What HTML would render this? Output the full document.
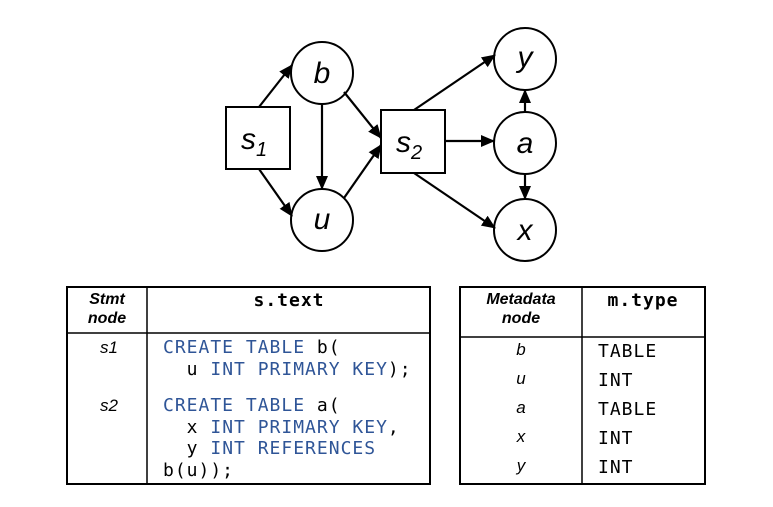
<!DOCTYPE html>
<html><head><style>
body{margin:0;width:773px;height:507px;background:#fff;overflow:hidden;position:relative;font-family:"Liberation Sans","DejaVu Sans",sans-serif}
svg{position:absolute;left:0;top:0}
.mono{font-family:"DejaVu Sans Mono","Liberation Mono",monospace}
.kw{fill:#2f5597}
</style></head><body>
<svg width="773" height="507" viewBox="0 0 773 507">
<defs><marker id="ah" markerWidth="14" markerHeight="14" refX="13" refY="6" orient="auto" markerUnits="userSpaceOnUse"><path d="M0,0 L14,6 L0,12 z" fill="#000"/></marker></defs>
<g fill="none" stroke="#000" stroke-width="2">
<rect x="226" y="107" width="64" height="62" fill="#fff"/>
<rect x="381" y="110" width="64" height="63" fill="#fff"/>
<circle cx="322" cy="73" r="31"/>
<circle cx="322" cy="220" r="31"/>
<circle cx="525" cy="59" r="31"/>
<circle cx="525" cy="143" r="31"/>
<circle cx="525" cy="230" r="31"/>
</g>
<g stroke="#000" stroke-width="2.2" marker-end="url(#ah)">
<line x1="259" y1="107" x2="292" y2="65"/>
<line x1="259" y1="169" x2="292" y2="216"/>
<line x1="322" y1="104" x2="322" y2="189"/>
<line x1="344" y1="92" x2="381" y2="138"/>
<line x1="344" y1="198" x2="381" y2="145"/>
<line x1="414" y1="110" x2="495" y2="55"/>
<line x1="445" y1="141" x2="494" y2="141"/>
<line x1="414" y1="173" x2="495" y2="228"/>
<line x1="525" y1="112" x2="525" y2="90"/>
<line x1="525" y1="174" x2="525" y2="199"/>
</g>
<g font-style="italic" font-size="30" text-anchor="middle" fill="#000">
<text x="254" y="149">s<tspan font-size="20" dy="7">1</tspan></text>
<text x="409" y="152">s<tspan font-size="20" dy="7">2</tspan></text>
<text x="322" y="83">b</text>
<text x="322" y="229">u</text>
<text x="525" y="67">y</text>
<text x="525" y="153">a</text>
<text x="525" y="240">x</text>
</g>
<g fill="none" stroke="#000">
<rect x="67" y="287" width="363" height="197" stroke-width="2"/>
<line x1="147" y1="287" x2="147" y2="484" stroke-width="1.5"/>
<line x1="67" y1="333" x2="430" y2="333" stroke-width="1.5"/>
<rect x="460" y="287" width="245" height="197" stroke-width="2"/>
<line x1="582" y1="287" x2="582" y2="484" stroke-width="1.5"/>
<line x1="460" y1="337" x2="705" y2="337" stroke-width="1.5"/>
</g>
<g font-weight="bold" font-style="italic" font-size="16" text-anchor="middle">
<text x="107" y="304">Stmt</text><text x="107" y="323">node</text>
<text x="521" y="304">Metadata</text><text x="521" y="323">node</text>
</g>
<g class="mono" font-weight="bold" font-size="18" text-anchor="middle">
<text x="289" y="306" letter-spacing="1">s.text</text>
<text x="643" y="306" letter-spacing="1">m.type</text>
</g>
<g font-style="italic" font-size="17" text-anchor="middle">
<text x="109" y="353">s1</text><text x="109" y="411">s2</text>
<text x="521" y="355">b</text><text x="521" y="384">u</text><text x="521" y="413">a</text><text x="521" y="442">x</text><text x="521" y="471">y</text>
</g>
<g class="mono" font-size="18" letter-spacing="1">
<text x="163" y="353"><tspan class="kw">CREATE TABLE</tspan> b(</text>
<text x="163" y="375">&#160;&#160;u <tspan class="kw">INT PRIMARY KEY</tspan>);</text>
<text x="163" y="411"><tspan class="kw">CREATE TABLE</tspan> a(</text>
<text x="163" y="433">&#160;&#160;x <tspan class="kw">INT PRIMARY KEY</tspan>,</text>
<text x="163" y="454">&#160;&#160;y <tspan class="kw">INT REFERENCES</tspan></text>
<text x="163" y="476">b(u));</text>
<text x="598" y="357">TABLE</text><text x="598" y="386">INT</text><text x="598" y="415">TABLE</text><text x="598" y="444">INT</text><text x="598" y="473">INT</text>
</g>
</svg>
</body></html>
